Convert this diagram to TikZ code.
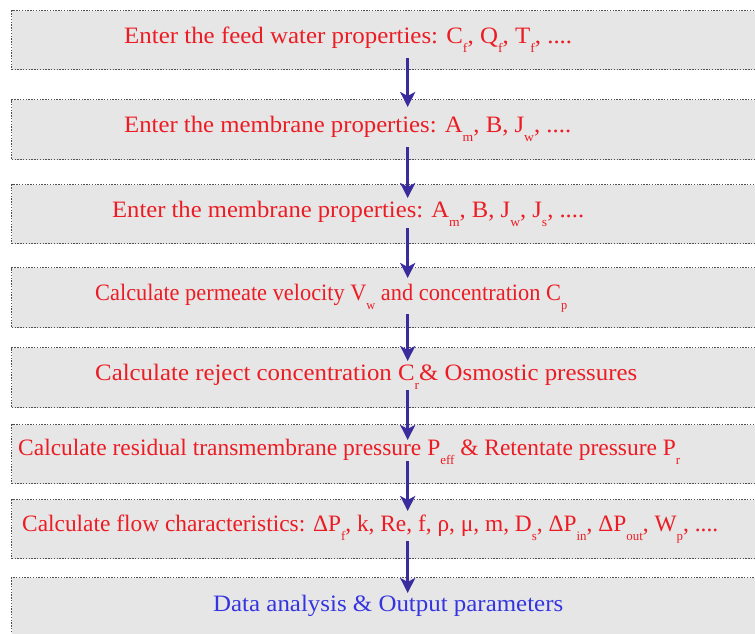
\documentclass[tikz,border=0pt]{standalone}
\usepackage{fontspec}
\setmainfont{Liberation Serif}
\usepackage{graphicx}
\usetikzlibrary{arrows.meta}
\definecolor{boxfill}{HTML}{E6E6E6}
\definecolor{boxline}{HTML}{505050}
\definecolor{txtred}{HTML}{EC1C24}
\definecolor{txtblue}{HTML}{3535E0}
\definecolor{arrblue}{HTML}{3A2C9C}
\newcommand{\sbs}[1]{\raisebox{-9pt}{\fontsize{13}{13}\selectfont #1}}
\newcommand{\fitw}[2]{\resizebox{#1pt}{\height}{#2}}
\begin{document}
\begin{tikzpicture}[x=1pt,y=-1pt,
  procbox/.style={draw=boxline, fill=boxfill, line width=1.4pt,
    dash pattern=on 1.4pt off 1.4pt, minimum width=749pt, inner sep=0pt,
    anchor=north west, rectangle},
  rowtxt/.style={anchor=base west, inner sep=0pt, text=txtred,
    font=\fontsize{23.5}{26}\selectfont},
  bluetxt/.style={rowtxt, text=txtblue},
  arr/.style={draw=arrblue, line width=3pt,
    -{Stealth[length=15pt,width=15pt,inset=4pt]}}]
\useasboundingbox (0,0) rectangle (755,634);
\clip (0,0) rectangle (755,634);
\node[procbox, minimum height=59pt] (b1) at (11,10) {};
\node[procbox, minimum height=60pt] (b2) at (11,99) {};
\node[procbox, minimum height=59pt] (b3) at (11,184) {};
\node[procbox, minimum height=60pt] (b4) at (11,267) {};
\node[procbox, minimum height=60pt] (b5) at (11,347) {};
\node[procbox, minimum height=59pt] (b6) at (11,424) {};
\node[procbox, minimum height=59pt] (b7) at (11,499) {};
\node[procbox, minimum height=70pt] (b8) at (11,577) {};

\node[rowtxt] (t1) at (124,43.5) {\fitw{448}{Enter the feed water properties: C\sbs{f}, Q\sbs{f}, T\sbs{f}, ....}};
\node[rowtxt] (t2) at (124,132.5) {\fitw{447}{Enter the membrane properties: A\sbs{m}, B, J\sbs{w}, ....}};
\node[rowtxt] (t3) at (112,217) {\fitw{472}{Enter the membrane properties: A\sbs{m}, B, J\sbs{w}, J\sbs{s}, ....}};
\node[rowtxt] (t4) at (95,300) {\fitw{472}{Calculate permeate velocity V\sbs{w} and concentration C\sbs{p}}};
\node[rowtxt] (t5) at (95,380) {\fitw{542}{Calculate reject concentration C\sbs{r}\& Osmostic pressures}};
\node[rowtxt] (t6) at (18,455) {\fitw{662}{Calculate residual transmembrane pressure P\sbs{eff} \& Retentate pressure P\sbs{r}}};
\node[rowtxt] (t7) at (22,531) {\fitw{696}{Calculate flow characteristics: ΔP\sbs{f}, k, Re, f, ρ, μ, m, D\sbs{s}, ΔP\sbs{in}, ΔP\sbs{out}, W\sbs{p}, ....}};
\node[bluetxt] (t8) at (213,611) {\fitw{350}{Data analysis \& Output parameters}};

\draw[arr] ([xshift=21.5pt,yshift=12pt]b1.south) -- ([xshift=21.5pt,yshift=-8pt]b2.north);
\draw[arr] ([xshift=21.5pt,yshift=13pt]b2.south) -- ([xshift=21.5pt,yshift=-14pt]b3.north);
\draw[arr] ([xshift=21.5pt,yshift=16pt]b3.south) -- ([xshift=21.5pt,yshift=-11pt]b4.north);
\draw[arr] ([xshift=21.5pt,yshift=14pt]b4.south) -- ([xshift=21.5pt,yshift=-14pt]b5.north);
\draw[arr] ([xshift=21.5pt,yshift=18pt]b5.south) -- ([xshift=21.5pt,yshift=-16pt]b6.north);
\draw[arr] ([xshift=21.5pt,yshift=23pt]b6.south) -- ([xshift=21.5pt,yshift=-12pt]b7.north);
\draw[arr] ([xshift=21.5pt,yshift=18pt]b7.south) -- ([xshift=21.5pt,yshift=-16pt]b8.north);
\end{tikzpicture}
\end{document}
